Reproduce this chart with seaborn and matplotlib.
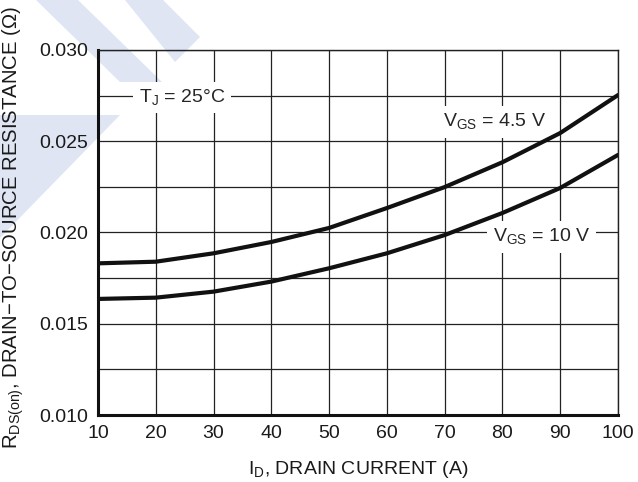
import seaborn as sns
import pandas as pd
import matplotlib.pyplot as plt
from matplotlib.patches import Polygon
from matplotlib.ticker import MultipleLocator

# drain current (A)
drain_current = [10, 20, 30, 40, 50, 60, 70, 80, 90, 100]
# RDS(on) in ohm
rds_vgs_4v5 = [0.01831, 0.01840, 0.01886, 0.01948, 0.02025, 0.02134, 0.02249, 0.02385, 0.02545, 0.02753]
rds_vgs_10v = [0.01636, 0.01643, 0.01676, 0.01731, 0.01804, 0.01886, 0.01986, 0.02107, 0.02244, 0.02425]
series_names = ['VGS = 4.5 V', 'VGS = 10 V']
x_ticks = [10, 20, 30, 40, 50, 60, 70, 80, 90, 100]
y_ticks = [0.010, 0.015, 0.020, 0.025, 0.030]
y_tick_labels = ['0.010', '0.015', '0.020', '0.025', '0.030']

W, H = 638, 482
FS = 14


def main():
    sns.set_style('white')
    plt.rcParams['font.family'] = ['Liberation Sans', 'DejaVu Sans']
    plt.rcParams['mathtext.fontset'] = 'custom'
    plt.rcParams['mathtext.rm'] = 'Liberation Sans'

    df = pd.DataFrame({'current': drain_current * 2,
                       'rds': rds_vgs_4v5 + rds_vgs_10v,
                       'vgs': [series_names[0]] * len(drain_current) + [series_names[1]] * len(drain_current)})

    fig = plt.figure(figsize=(W / 100, H / 100), dpi=100)
    draw_watermark(fig)

    ax = fig.add_axes([98 / W, 1 - 415 / H, 520 / W, 365 / H])
    ax.set_facecolor('none')
    ax.set_zorder(1)

    sns.lineplot(data=df, x='current', y='rds', hue='vgs', palette=['#111111', '#111111'],
                 linewidth=3, legend=False, ax=ax, zorder=5)

    ax.set_xlim(10, 100)
    ax.set_ylim(0.010, 0.030)
    ax.set_xticks(x_ticks)
    ax.set_xticklabels([str(t) for t in x_ticks])
    ax.set_yticks(y_ticks)
    ax.set_yticklabels(y_tick_labels)
    ax.yaxis.set_minor_locator(MultipleLocator(0.0025))
    ax.tick_params(axis='both', which='both', length=0, labelsize=FS, colors='#1a1a1a', pad=7)
    ax.grid(True, which='both', color='#222222', linewidth=0.9)

    for side in ['left', 'bottom']:
        ax.spines[side].set_linewidth(2.2)
        ax.spines[side].set_color('#111111')
    for side in ['top', 'right']:
        ax.spines[side].set_linewidth(1.0)
        ax.spines[side].set_color('#222222')
        ax.spines[side].set_visible(True)

    ax.set_xlabel(r'I$_\mathregular{D}$, DRAIN CURRENT (A)', fontsize=FS, color='#1a1a1a')
    ax.set_ylabel(r'R$_\mathregular{DS(on)}$, DRAIN$-$TO$-$SOURCE RESISTANCE ($\Omega$)',
                  fontsize=14.6, color='#1a1a1a')
    ax.xaxis.set_label_coords(0.5, -0.12)
    ax.yaxis.set_label_coords(-0.138, 0.515)

    box = dict(facecolor='white', edgecolor='none', pad=4)
    ax.text(24.5, 0.02740, r'T$_\mathregular{J}$ = 25°C', fontsize=FS, ha='center', va='center',
            bbox=box, zorder=4)
    ax.text(78.7, 0.02605, r'V$_\mathregular{GS}$ = 4.5 V', fontsize=FS, ha='center', va='center',
            bbox=box, zorder=4)
    ax.text(86.8, 0.01975, r'V$_\mathregular{GS}$ = 10 V', fontsize=FS, ha='center', va='center',
            bbox=box, zorder=4)

    plt.savefig('out.png', dpi=100)


def draw_watermark(fig):
    color = '#dfe5f3'
    shapes = [
        [(36, 0), (78, 0), (162, 82), (120, 82)],
        [(125, 0), (163, 0), (200, 37), (175, 62)],
        [(0, 115), (120, 115), (0, 238)],
    ]
    for pts in shapes:
        fig.patches.append(Polygon([(x / W, 1 - y / H) for x, y in pts], closed=True,
                                   facecolor=color, edgecolor='none',
                                   transform=fig.transFigure, zorder=-1))


if __name__ == "__main__":
    main()
